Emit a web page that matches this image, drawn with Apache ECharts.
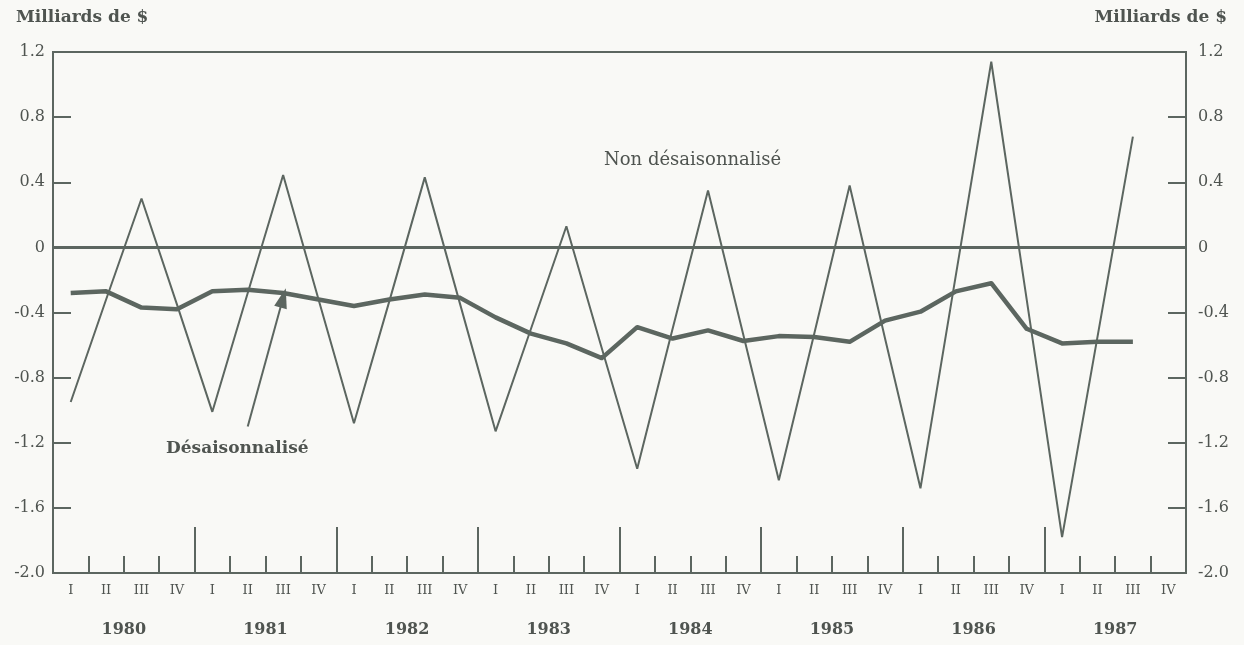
<!DOCTYPE html>
<html>
<head>
<meta charset="utf-8">
<script src="https://cdn.jsdelivr.net/npm/echarts@6/dist/echarts.min.js"></script>
<style>
  html, body { margin: 0; padding: 0; background: #f9f9f6; }
  #chart { width: 1244px; height: 645px; }
</style>
</head>
<body>
<div id="chart"></div>
<script>
// Quarterly balance, billions of dollars, 1980 I – 1987 III
const quarters = ['I', 'II', 'III', 'IV'];
const years = ['1980', '1981', '1982', '1983', '1984', '1985', '1986', '1987'];
const quarterLabels = years.flatMap(() => quarters);

// Not seasonally adjusted
const nonDesaisonnalise = [
  -0.95, -0.32, 0.30, -0.35,
  -1.01, -0.28, 0.445, -0.32,
  -1.08, -0.33, 0.43, -0.35,
  -1.13, -0.50, 0.13, -0.62,
  -1.36, -0.50, 0.35, -0.54,
  -1.43, -0.53, 0.38, -0.56,
  -1.48, -0.17, 1.14, -0.32,
  -1.78, -0.55, 0.68
];

// Seasonally adjusted
const desaisonnalise = [
  -0.28, -0.27, -0.37, -0.38,
  -0.27, -0.26, -0.28, -0.32,
  -0.36, -0.32, -0.29, -0.31,
  -0.43, -0.53, -0.59, -0.68,
  -0.49, -0.56, -0.51, -0.575,
  -0.545, -0.55, -0.58, -0.45,
  -0.395, -0.27, -0.22, -0.50,
  -0.59, -0.58, -0.58
];

const yTicks = { min: -2.0, max: 1.2, interval: 0.4 };

const ink = '#5c6660';
const textInk = '#4f5450';
const serif = '"DejaVu Serif", "Liberation Serif", serif';

function fmtY(v) {
  const r = Math.round(v * 10) / 10;
  if (r === 0) return '0';
  return r.toFixed(1);
}

const chart = echarts.init(document.getElementById('chart'));

const yAxisBase = {
  type: 'value',
  min: yTicks.min,
  max: yTicks.max,
  interval: yTicks.interval,
  splitLine: { show: false },
  axisLine: { show: true, lineStyle: { color: ink, width: 2 } },
  axisTick: { show: true, inside: true, length: 18, lineStyle: { color: ink, width: 2 } },
  axisLabel: {
    formatter: fmtY,
    color: textInk,
    fontFamily: serif,
    fontSize: 16
  }
};

chart.setOption({
  backgroundColor: '#f9f9f6',
  animation: false,
  grid: {
    left: 53, right: 58, top: 52, bottom: 72,
    show: true,
    borderColor: ink,
    borderWidth: 2,
    backgroundColor: 'transparent'
  },
  xAxis: [
    {
      type: 'category',
      data: quarterLabels,
      boundaryGap: true,
      axisLine: { show: true, onZero: false, lineStyle: { color: ink, width: 2 } },
      axisTick: { show: true, inside: true, length: 17, interval: 0, lineStyle: { color: ink, width: 2 } },
      axisLabel: {
        interval: 0,
        margin: 11,
        color: textInk,
        fontFamily: serif,
        fontSize: 13
      },
      splitLine: { show: false }
    },
    {
      type: 'category',
      data: years,
      position: 'bottom',
      boundaryGap: true,
      axisLine: { show: false, onZero: false },
      axisTick: { show: true, inside: true, length: 46, interval: 0, lineStyle: { color: ink, width: 2 } },
      axisLabel: {
        interval: 0,
        margin: 49,
        color: textInk,
        fontFamily: serif,
        fontWeight: 'bold',
        fontSize: 16
      },
      splitLine: { show: false }
    }
  ],
  yAxis: [
    Object.assign({}, yAxisBase, {
      position: 'left',
      axisLabel: Object.assign({}, yAxisBase.axisLabel, { margin: 8 })
    }),
    Object.assign({}, yAxisBase, {
      position: 'right',
      axisLabel: Object.assign({}, yAxisBase.axisLabel, { margin: 12 })
    })
  ],
  series: [
    {
      name: 'Non désaisonnalisé',
      type: 'line',
      xAxisIndex: 0,
      yAxisIndex: 0,
      data: nonDesaisonnalise,
      symbol: 'none',
      lineStyle: { color: ink, width: 2 },
      z: 3,
      markLine: {
        silent: true,
        symbol: ['none', 'none'],
        label: { show: false },
        lineStyle: { color: ink, width: 3, type: 'solid' },
        data: [{ yAxis: 0 }]
      }
    },
    {
      name: 'Désaisonnalisé',
      type: 'line',
      xAxisIndex: 0,
      yAxisIndex: 0,
      data: desaisonnalise,
      symbol: 'none',
      lineStyle: { color: ink, width: 4.5, join: 'round' },
      z: 4,
      markLine: {
        silent: true,
        symbol: ['none', 'triangle'],
        symbolSize: [13, 20],
        label: { show: false },
        lineStyle: { color: ink, width: 2, type: 'solid' },
        data: [[
          { coord: [5.06, -1.10] },
          { coord: [5.92, -0.31] }
        ]]
      }
    }
  ],
  graphic: [
    {
      type: 'text', left: 16, top: 9,
      style: { text: 'Milliards de $', fill: textInk, font: 'bold 17px ' + serif }
    },
    {
      type: 'text', right: 17, top: 9,
      style: { text: 'Milliards de $', fill: textInk, font: 'bold 17px ' + serif }
    },
    {
      type: 'text', left: 604, top: 151,
      style: { text: 'Non désaisonnalisé', fill: textInk, font: '18px ' + serif }
    },
    {
      type: 'text', left: 166, top: 440,
      style: { text: 'Désaisonnalisé', fill: textInk, font: 'bold 17px ' + serif }
    }
  ]
});
</script>
</body>
</html>
